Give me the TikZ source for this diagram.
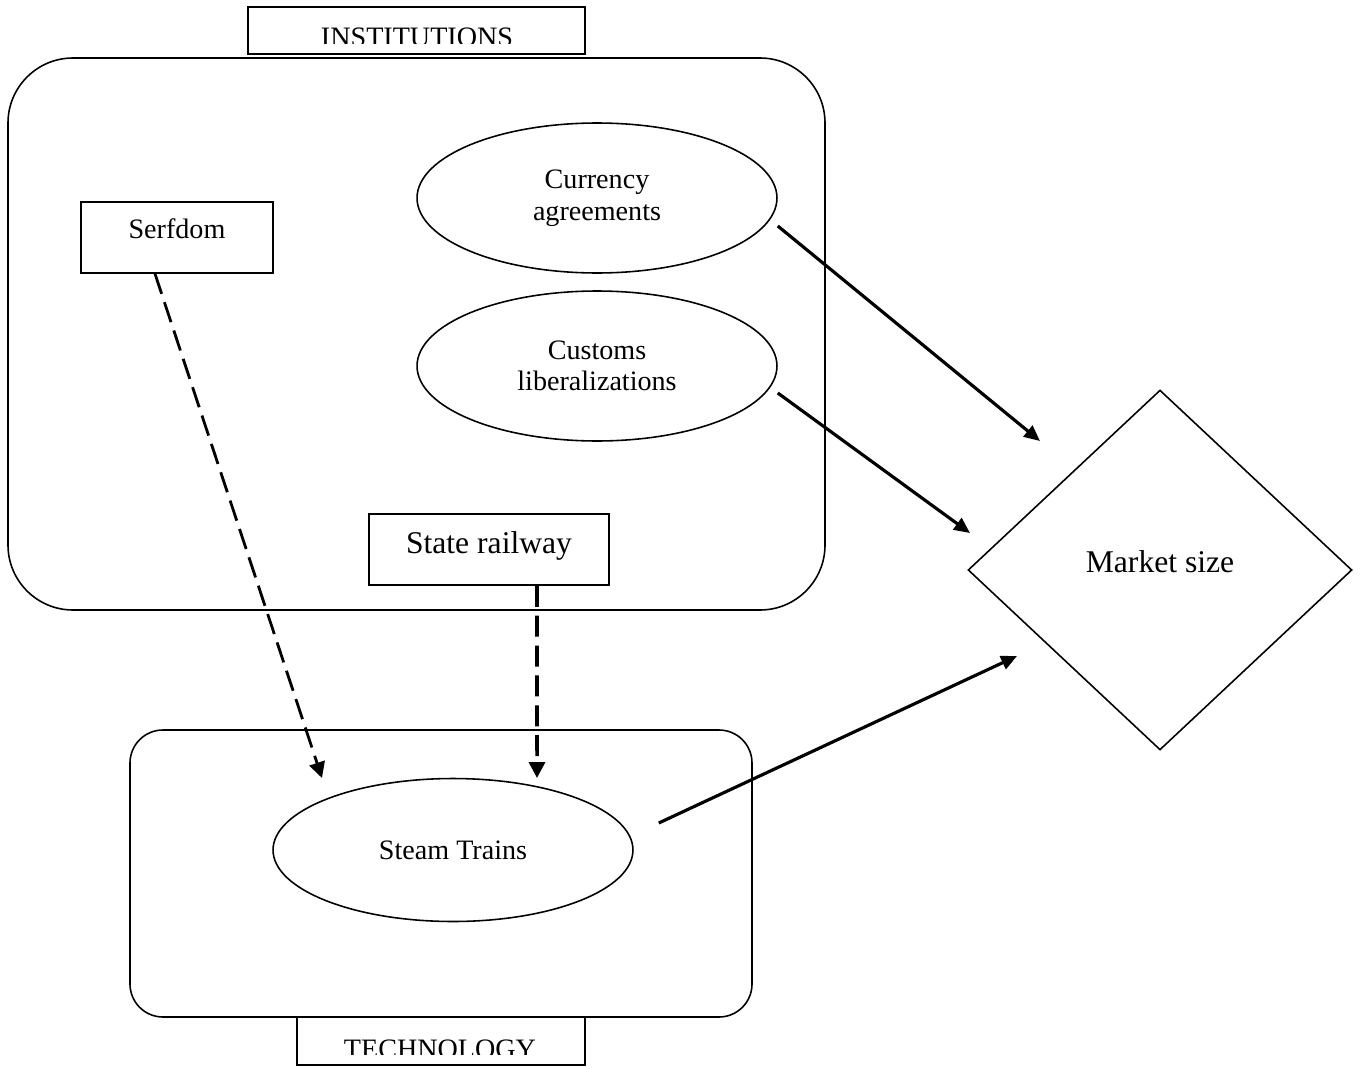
\documentclass[tikz,border=0pt]{standalone}
\usepackage{fontspec}
\setmainfont{Liberation Serif}
\usetikzlibrary{shapes.geometric,arrows.meta}
\begin{document}
\begin{tikzpicture}[x=0.02cm, y=-0.02cm, font=\fontsize{16pt}{18pt}\selectfont,
      box/.style={draw, line width=0.9pt, inner sep=0pt},
      oval/.style={draw, ellipse, line width=0.9pt, inner sep=0pt, minimum width=7.2cm, align=center},
      big/.style={font=\fontsize{18pt}{20pt}\selectfont},
      dep/.style={line width=1.6pt, dash pattern=on 12pt off 5pt, -{Triangle[length=9pt,width=9pt]}},
      eff/.style={line width=1.8pt, -{Triangle[length=9pt,width=8pt]}}]
      \useasboundingbox (0,0) rectangle (1365,1068);
      % the two frames
      \draw[line width=0.9pt, rounded corners=1.3cm] (8, 58) rectangle (825, 610);
      \draw[line width=0.9pt, rounded corners=0.66cm] (130, 730) rectangle (752, 1017);
      \node[box, minimum width=6.74cm, minimum height=0.94cm] (instbox) at (416.5, 30.5) {};
      \node[box, minimum width=5.76cm, minimum height=0.96cm] (techbox) at (441, 1041) {};
      \begin{scope}
        \clip (instbox.north west) rectangle ([yshift=0.22cm]instbox.south east);
        \node[anchor=base, inner sep=0pt] (instlbl) at (417, 47) {INSTITUTIONS};
      \end{scope}
      \begin{scope}
        \clip (techbox.north west) rectangle ([yshift=0.22cm]techbox.south east);
        \node[anchor=base, inner sep=0pt] (techlbl) at (440, 1058) {TECHNOLOGY};
      \end{scope}
      % nodes
      \node[box, minimum width=3.84cm, text height=0.72cm, text depth=0.7cm, anchor=base] (serf) at (177, 238) {Serfdom};
      \node[box, big, minimum width=4.8cm, text height=0.78cm, text depth=0.64cm, anchor=base] (rail) at (489, 553) {State railway\hspace{0.28cm}};
      \node[oval, minimum height=3cm] (cur) at (597, 198) {Currency\\agreements};
      \node[oval, minimum height=3cm] (cus) at (597, 366) {Customs\\liberalizations};
      \node[oval, minimum height=2.86cm] (steam) at (453, 850) {Steam Trains};
      \node[draw, diamond, big, line width=0.9pt, inner sep=0pt, minimum width=7.68cm, minimum height=7.2cm,
            text height=0.45cm, text depth=0.37cm] (mkt) at (1160, 570) {Market size};
      % arrows
      \coordinate (serftip) at (322, 778);
      \coordinate (railtip) at (537, 778);
      \coordinate (curtip) at (1040, 441);
      \coordinate (custip) at (970, 533);
      \coordinate (steamtip) at (1017, 656);
      \draw[dep] ([xshift=-0.44cm]serf.south) -- (serftip);
      \draw[dep, line width=2pt] ([xshift=0.96cm]rail.south) -- (railtip);
      \draw[eff] ([yshift=-0.56cm]cur.east) -- (curtip);
      \draw[eff] ([yshift=-0.54cm]cus.east) -- (custip);
      \draw[eff] ([shift={(0.5cm,0.54cm)}]steam.east) -- (steamtip);
\end{tikzpicture}
\end{document}
